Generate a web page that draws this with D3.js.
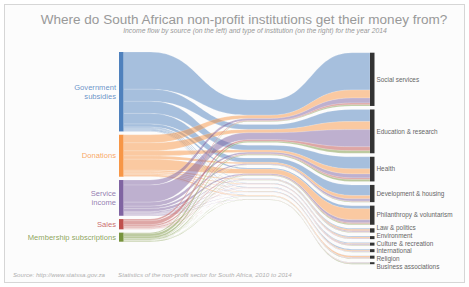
<!DOCTYPE html>
<html>
<head>
<meta charset="utf-8">
<script src="https://cdn.jsdelivr.net/npm/d3@7"></script>
<style>
  html, body { margin: 0; padding: 0; background: #fff; }
  svg { display: block; font-family: "Liberation Sans", Arial, sans-serif; }
</style>
</head>
<body>
<svg id="chart" width="469" height="287"></svg>
<script>
const sources = ['Government subsidies', 'Donations', 'Service income', 'Sales', 'Membership subscriptions'];
const sourceLines = [['Government', 'subsidies'], ['Donations'], ['Service', 'income'], ['Sales'], ['Membership subscriptions']];
const sourceColors = ['#4f81bd', '#f79646', '#8064a2', '#c0504d', '#77933c'];
const targets = ['Social services', 'Education & research', 'Health', 'Development & housing',
  'Philanthropy & voluntarism', 'Law & politics', 'Environment', 'Culture & recreation',
  'International', 'Religion', 'Business associations'];

// income of each source split by type of institution (same order as targets)
const government    = [37, 12, 12, 10.5, 3, 1, 0.8, 0.8, 1.2, 0.3, 0.3];
const donations     = [8, 8, 5, 3.3, 11, 1.5, 1.2, 0.8, 1, 1.6, 0.3];
const serviceIncome = [5, 17, 4, 2.3, 3, 1, 0.6, 0.8, 0.6, 0.6, 0.6];
const sales         = [1.7, 4, 1.5, 0.5, 1, 0.4, 0.2, 0.3, 0.1, 0.3, 0.2];
const membership    = [1.2, 2.5, 2, 0.5, 1, 0.4, 0.2, 0.3, 0.1, 0.2, 0.6];
const flows = [government, donations, serviceIncome, sales, membership];

const svg = d3.select('#chart');

// frame
svg.append('rect')
  .attr('x', 4.5).attr('y', 4.5).attr('width', 460).attr('height', 278)
  .attr('fill', '#fcfcfc').attr('stroke', '#d6d6d6');

const total = d3.sum(flows, r => d3.sum(r));
const y = d3.scaleLinear().domain([0, total]).range([0, 176.5]);   // thickness at the ends
const mid = d3.scaleLinear().domain([0, total]).range([0, 72]);    // thickness in the waist

const xL = 119, nodeW = 4.5, xR = 370;
const leftTop = 52, leftPad = 3.3, rightTop = 52.7, rightPad = 3.5, midTop = 100, midPad = 2.8;
const xa = 150, xb = 248, xc = 270, xd = 352;

let cy = leftTop;
const srcNodes = sources.map((s, i) => {
  const v = d3.sum(flows[i]);
  const n = { name: s, i, value: v, y0: cy, y1: cy + y(v) };
  cy = n.y1 + leftPad;
  return n;
});
cy = rightTop;
const tgtNodes = targets.map((t, j) => {
  const v = d3.sum(flows, r => r[j]);
  const n = { name: t, j, value: v, y0: cy, y1: cy + y(v) };
  cy = n.y1 + rightPad;
  return n;
});
let my = midTop;
const midNodes = targets.map((t, j) => {
  const v = d3.sum(flows, r => r[j]);
  const n = { y0: my, y1: my + mid(v) };
  my = n.y1 + midPad;
  return n;
});

const links = [];
const srcOff = srcNodes.map(n => n.y0);
const tgtOff = tgtNodes.map(n => n.y0);
const midOff = midNodes.map(n => n.y0);
sources.forEach((s, i) => {
  targets.forEach((t, j) => {
    const v = flows[i][j];
    links.push({ i, j, v, s0: srcOff[i], t0: tgtOff[j], m0: midOff[j], h: y(v), hm: mid(v) });
    srcOff[i] += y(v);
    tgtOff[j] += y(v);
    midOff[j] += mid(v);
  });
});

function band(d) {
  const p = d3.path();
  const x0 = xL + nodeW, m1 = (xa + xb) / 2, m2 = (xc + xd) / 2;
  p.moveTo(x0, d.s0);
  p.lineTo(xa, d.s0);
  p.bezierCurveTo(m1, d.s0, m1, d.m0, xb, d.m0);
  p.lineTo(xc, d.m0);
  p.bezierCurveTo(m2, d.m0, m2, d.t0, xd, d.t0);
  p.lineTo(xR, d.t0);
  p.lineTo(xR, d.t0 + d.h);
  p.lineTo(xd, d.t0 + d.h);
  p.bezierCurveTo(m2, d.t0 + d.h, m2, d.m0 + d.hm, xc, d.m0 + d.hm);
  p.lineTo(xb, d.m0 + d.hm);
  p.bezierCurveTo(m1, d.m0 + d.hm, m1, d.s0 + d.h, xa, d.s0 + d.h);
  p.lineTo(x0, d.s0 + d.h);
  p.closePath();
  return p.toString();
}

svg.append('g')
  .selectAll('path')
  .data(links)
  .join('path')
  .attr('d', band)
  .attr('fill', d => sourceColors[d.i])
  .attr('fill-opacity', 0.5)
  .attr('stroke', '#fff')
  .attr('stroke-width', 0.35)
  .attr('stroke-opacity', 0.5);

// source nodes
svg.append('g')
  .selectAll('rect')
  .data(srcNodes)
  .join('rect')
  .attr('x', xL).attr('y', d => d.y0)
  .attr('width', nodeW).attr('height', d => d.y1 - d.y0)
  .attr('fill', d => sourceColors[d.i]);

// target nodes
svg.append('g')
  .selectAll('rect')
  .data(tgtNodes)
  .join('rect')
  .attr('x', xR).attr('y', d => d.y0)
  .attr('width', nodeW).attr('height', d => Math.max(1.5, d.y1 - d.y0))
  .attr('fill', '#333');

// source labels
const lineH = 9;
svg.append('g')
  .selectAll('text')
  .data(srcNodes)
  .join('text')
  .attr('x', xL - 3)
  .attr('y', d => (d.y0 + d.y1) / 2 - (sourceLines[d.i].length - 1) * lineH / 2)
  .attr('text-anchor', 'end')
  .attr('font-size', 7.6)
  .attr('fill', d => sourceColors[d.i])
  .attr('fill-opacity', 0.85)
  .each(function (d) {
    const t = d3.select(this);
    sourceLines[d.i].forEach((line, k) => {
      t.append('tspan')
        .attr('x', xL - 3)
        .attr('dy', k === 0 ? '0.35em' : lineH)
        .text(line);
    });
  });

// target labels, spread apart where nodes are small
const labelY = tgtNodes.map(n => (n.y0 + n.y1) / 2);
const minGap = 7.7;
for (let it = 0; it < 200; it++) {
  for (let k = 1; k < labelY.length; k++) {
    const over = minGap - (labelY[k] - labelY[k - 1]);
    if (over > 0) {
      labelY[k - 1] -= over / 2;
      labelY[k] += over / 2;
    }
  }
}
svg.append('g')
  .selectAll('text')
  .data(tgtNodes)
  .join('text')
  .attr('x', xR + nodeW + 2)
  .attr('y', (d, k) => labelY[k])
  .attr('dy', '0.35em')
  .attr('font-size', 6.4)
  .attr('fill', '#666')
  .text(d => d.name);

function fit(sel, w) {
  const l = sel.node().getComputedTextLength();
  sel.attr('font-size', parseFloat(sel.attr('font-size')) * w / l);
}

const title = svg.append('text')
  .attr('x', 244).attr('y', 24)
  .attr('text-anchor', 'middle')
  .attr('font-size', 13)
  .attr('fill', '#999')
  .text('Where do South African non-profit institutions get their money from?');
fit(title, 407);

const sub = svg.append('text')
  .attr('x', 255).attr('y', 32.5)
  .attr('text-anchor', 'middle')
  .attr('font-size', 6.5)
  .attr('font-style', 'italic')
  .attr('fill', '#999')
  .text('Income flow by source (on the left) and type of institution (on the right) for the year 2014');
fit(sub, 264);

const src = svg.append('text')
  .attr('x', 13).attr('y', 277)
  .attr('font-size', 6)
  .attr('font-style', 'italic')
  .attr('fill', '#b0b0b0')
  .text('Source: http://www.statssa.gov.za');
fit(src, 92);

const stat = svg.append('text')
  .attr('x', 118).attr('y', 277)
  .attr('font-size', 6)
  .attr('font-style', 'italic')
  .attr('fill', '#b0b0b0')
  .text('Statistics of the non-profit sector for South Africa, 2010 to 2014');
fit(stat, 174);
</script>
</body>
</html>
